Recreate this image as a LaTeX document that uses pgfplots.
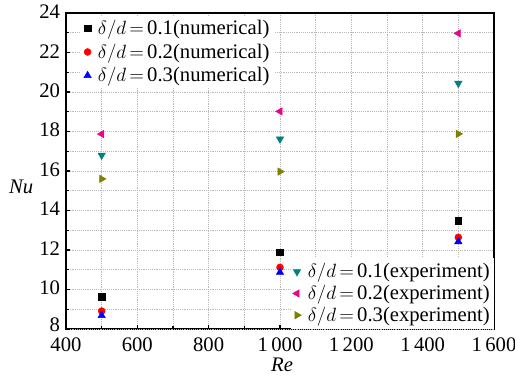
\documentclass[border=0pt]{standalone}
\usepackage{pgfplots}
\pgfplotsset{compat=1.18}
\usepackage{fontspec}
\setmainfont{Liberation Serif}
\definecolor{cteal}{RGB}{0,128,128}
\definecolor{colive}{RGB}{128,128,0}
\pgfplotsset{
  common/.style={
    width=321pt, height=237pt, scale only axis,
    xmin=400, xmax=1600, ymin=8, ymax=24,
    clip=false,
  },
  legimg/.style={legend image code/.code={\draw plot coordinates {(0.1cm,0cm)};}},
}
\begin{document}
\begin{tikzpicture}[font=\fontsize{15.5}{18}\selectfont]
\begin{axis}[common,
  xtick={400,600,...,1600}, minor x tick num=1,
  ytick={10,12,...,24}, minor ytick={9,11,...,23},
  extra y ticks={8}, extra y tick style={yticklabel style={yshift=2.5pt}},
  tick pos=left, tick align=inside,
  major tick length=3pt, minor tick length=2pt,
  grid=both,
  major grid style={densely dotted, gray!55, line width=0.5pt},
  minor grid style={densely dotted, gray!55, line width=0.5pt},
  axis line style={line width=0.9pt},
  every tick/.style={black, line width=0.8pt},
  /pgf/number format/assume math mode=true,
  /pgf/number format/1000 sep={\,},
  xticklabel style={yshift=-5.5pt, inner ysep=0.5pt},
  yticklabel style={xshift=-1pt, yshift=1pt, inner ysep=0.5pt},
  xlabel={\textit{Re}}, ylabel={\textit{Nu}},
  every axis x label/.style={at={(axis description cs:0.505,-0.114)},anchor=center},
  every axis y label/.style={at={(axis description cs:-0.105,0.45)},anchor=center},
  legimg,
  legend cell align=left,
  legend style={at={(0.035,1)}, anchor=north west, yshift=-3pt, draw=none, fill=white,
    inner xsep=2pt, inner ysep=1pt, row sep=3pt,
    /tikz/every odd column/.append style={column sep=3pt},
    nodes={inner xsep=2pt, inner ysep=1.2pt}},
]
\addplot[only marks, mark=square*, mark size=2.5pt, black] coordinates {(500,9.64) (1000,11.88) (1500,13.48)};
\addlegendentry{$\delta/d\,{=}\,$0.1(numerical)}
\addplot[only marks, mark=*, mark size=2.6pt, red] coordinates {(500,8.91) (1000,11.12) (1500,12.64)};
\addlegendentry{$\delta/d\,{=}\,$0.2(numerical)}
\addplot[only marks, mark=triangle*, mark size=3.2pt, blue] coordinates {(500,8.68) (1000,10.87) (1500,12.42)};
\addlegendentry{$\delta/d\,{=}\,$0.3(numerical)}
\end{axis}
\begin{axis}[common, hide axis,
  legimg,
  legend cell align=left,
  legend style={at={(1,0)}, anchor=south east, draw=none, fill=white,
    inner xsep=1pt, inner ysep=3pt, row sep=2pt,
    /tikz/every odd column/.append style={column sep=3pt},
    nodes={inner xsep=2pt, inner ysep=1.0pt}},
]
\addplot[only marks, mark=triangle*, mark options={rotate=180}, mark size=3.2pt, cteal] coordinates {(500,16.8) (1000,17.62) (1500,20.44)};
\addlegendentry{$\delta/d\,{=}\,$0.1(experiment)}
\addplot[only marks, mark=triangle*, mark options={rotate=90}, mark size=3.2pt, magenta] coordinates {(500,17.87) (1000,19.02) (1500,22.97)};
\addlegendentry{$\delta/d\,{=}\,$0.2(experiment)}
\addplot[only marks, mark=triangle*, mark options={rotate=-90}, mark size=3.2pt, colive] coordinates {(500,15.6) (1000,15.97) (1500,17.88)};
\addlegendentry{$\delta/d\,{=}\,$0.3(experiment)}
\end{axis}
\pgfresetboundingbox
\path ([shift={(-49.5pt,-37.5pt)}]current axis.south west) rectangle ([shift={(15.75pt,9.75pt)}]current axis.north east);
\end{tikzpicture}
\end{document}
